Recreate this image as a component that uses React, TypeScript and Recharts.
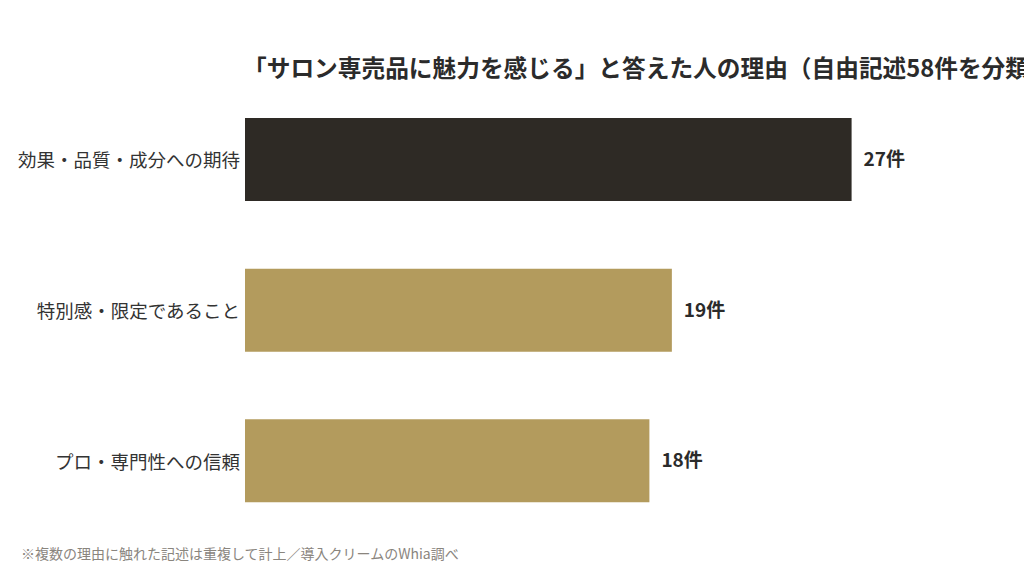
import { BarChart, Bar, XAxis, YAxis, Cell, LabelList } from "recharts";

const categories = [
  "効果・品質・成分への期待",
  "特別感・限定であること",
  "プロ・専門性への信頼",
];
const counts = [27, 19, 18];
const barColors = ["#2e2a25", "#b39b5d", "#b39b5d"];

const title = "「サロン専売品に魅力を感じる」と答えた人の理由（自由記述58件を分類）";
const note = "※複数の理由に触れた記述は重複して計上／導入クリームのWhia調べ";

const data = categories.map((name, i) => ({ name, value: counts[i] }));

const FONT = '"Noto Sans CJK JP", "Noto Sans", sans-serif';

function CategoryTick(props: any) {
  const { y, payload } = props;
  return (
    <text
      x={240}
      y={y}
      textAnchor="end"
      dominantBaseline="central"
      fontSize={18.5}
      fill="#333333"
      fontFamily={FONT}
    >
      {payload.value}
    </text>
  );
}

function ValueLabel(props: any) {
  const { x, y, width, height, value } = props;
  return (
    <text
      x={x + width + 12}
      y={y + height / 2 - 2}
      dominantBaseline="central"
      fontSize={19}
      fontWeight={700}
      fill="#2b2b2b"
      fontFamily={FONT}
    >
      {`${value}件`}
    </text>
  );
}

export default function App() {
  return (
    <div
      style={{
        position: "relative",
        width: 1024,
        height: 576,
        overflow: "hidden",
        background: "#ffffff",
        fontFamily: FONT,
      }}
    >
      <style>{`body{margin:0}`}</style>
      <div
        style={{
          position: "absolute",
          left: 243,
          top: 55,
          fontSize: 23.7,
          lineHeight: "24px",
          fontWeight: 700,
          color: "#2b2b2b",
          whiteSpace: "nowrap",
        }}
      >
        {title}
      </div>
      <BarChart
        width={1024}
        height={576}
        data={data}
        layout="vertical"
        margin={{ top: 84, right: 105, bottom: 40, left: 0 }}
      >
        <XAxis type="number" domain={[0, 30]} hide />
        <YAxis
          type="category"
          dataKey="name"
          width={245}
          axisLine={false}
          tickLine={false}
          tick={<CategoryTick />}
        />
        <Bar dataKey="value" barSize={83} isAnimationActive={false}>
          {data.map((d, i) => (
            <Cell key={d.name} fill={barColors[i]} />
          ))}
          <LabelList dataKey="value" content={<ValueLabel />} />
        </Bar>
      </BarChart>
      <div
        style={{
          position: "absolute",
          left: 21,
          top: 544,
          fontSize: 14,
          lineHeight: "18px",
          color: "#8a857e",
          whiteSpace: "nowrap",
        }}
      >
        {note}
      </div>
    </div>
  );
}
